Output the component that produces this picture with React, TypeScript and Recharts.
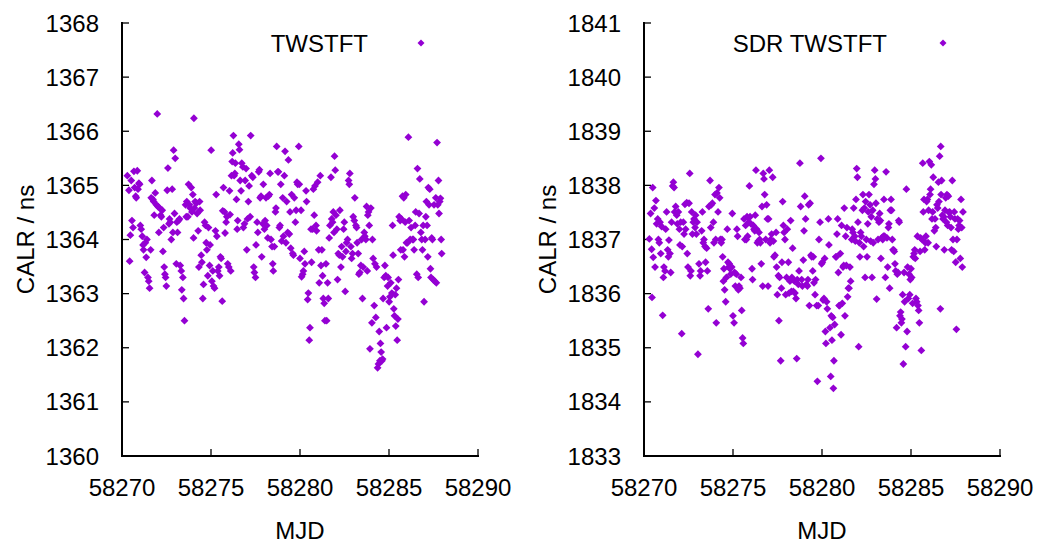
import React from 'react';
import { ScatterChart, Scatter, XAxis, YAxis, Label } from 'recharts';

// MJD axis
const mjdTicks = [58270, 58275, 58280, 58285, 58290];
const twstftTicks = [1360, 1361, 1362, 1363, 1364, 1365, 1366, 1367, 1368];
const sdrTicks = [1833, 1834, 1835, 1836, 1837, 1838, 1839, 1840, 1841];

// left panel: TWSTFT
const twstftMjd = [
  58270.30, 58270.39, 58270.43, 58270.47, 58270.52, 58270.56, 58270.62, 58270.67, 58270.71, 58270.77,
  58270.80, 58270.86, 58270.90, 58270.95, 58270.99, 58271.03, 58271.08, 58271.14, 58271.18, 58271.21,
  58271.27, 58271.31, 58271.36, 58271.40, 58271.46, 58271.50, 58271.55, 58271.61, 58271.64, 58271.68,
  58271.74, 58271.78, 58271.81, 58271.87, 58271.93, 58271.98, 58272.02, 58272.07, 58272.11, 58272.17,
  58272.21, 58272.26, 58272.30, 58272.34, 58272.37, 58272.41, 58272.45, 58272.49, 58272.54, 58272.58,
  58272.64, 58272.67, 58272.71, 58272.77, 58272.82, 58272.86, 58272.90, 58272.95, 58272.99, 58273.05,
  58273.08, 58273.12, 58273.18, 58273.23, 58273.27, 58273.33, 58273.36, 58273.42, 58273.46, 58273.51,
  58273.57, 58273.61, 58273.64, 58273.70, 58273.74, 58273.79, 58273.83, 58273.89, 58273.93, 58273.98,
  58274.02, 58274.04, 58274.07, 58274.11, 58274.17, 58274.22, 58274.28, 58274.32, 58274.36, 58274.39,
  58274.45, 58274.49, 58274.54, 58274.58, 58274.64, 58274.69, 58274.73, 58274.77, 58274.82, 58274.86,
  58274.92, 58274.95, 58275.01, 58275.05, 58275.10, 58275.14, 58275.20, 58275.25, 58275.29, 58275.33,
  58275.38, 58275.44, 58275.48, 58275.53, 58275.57, 58275.63, 58275.66, 58275.70, 58275.76, 58275.79,
  58275.85, 58275.89, 58275.94, 58276.00, 58276.04, 58276.07, 58276.11, 58276.15, 58276.19, 58276.22,
  58276.26, 58276.30, 58276.34, 58276.37, 58276.43, 58276.47, 58276.50, 58276.56, 58276.60, 58276.64,
  58276.69, 58276.73, 58276.79, 58276.82, 58276.88, 58276.92, 58276.97, 58277.01, 58277.05, 58277.10,
  58277.14, 58277.20, 58277.23, 58277.29, 58277.35, 58277.40, 58277.44, 58277.50, 58277.53, 58277.59,
  58277.63, 58277.68, 58277.72, 58277.76, 58277.81, 58277.85, 58277.91, 58277.94, 58278.00, 58278.04,
  58278.09, 58278.13, 58278.19, 58278.22, 58278.28, 58278.32, 58278.37, 58278.43, 58278.47, 58278.50,
  58278.56, 58278.62, 58278.65, 58278.69, 58278.75, 58278.79, 58278.84, 58278.88, 58278.92, 58278.97,
  58279.03, 58279.07, 58279.12, 58279.16, 58279.21, 58279.25, 58279.31, 58279.35, 58279.40, 58279.44,
  58279.48, 58279.53, 58279.59, 58279.63, 58279.68, 58279.74, 58279.78, 58279.83, 58279.87, 58279.93,
  58279.96, 58280.00, 58280.06, 58280.09, 58280.15, 58280.19, 58280.24, 58280.28, 58280.34, 58280.37,
  58280.43, 58280.47, 58280.52, 58280.56, 58280.62, 58280.65, 58280.71, 58280.75, 58280.80, 58280.84,
  58280.90, 58280.93, 58280.99, 58281.05, 58281.08, 58281.14, 58281.18, 58281.23, 58281.27, 58281.31,
  58281.36, 58281.40, 58281.46, 58281.50, 58281.55, 58281.59, 58281.64, 58281.68, 58281.74, 58281.78,
  58281.83, 58281.87, 58281.91, 58281.94, 58281.98, 58282.02, 58282.07, 58282.11, 58282.15, 58282.21,
  58282.24, 58282.30, 58282.34, 58282.39, 58282.45, 58282.49, 58282.54, 58282.58, 58282.62, 58282.67,
  58282.73, 58282.77, 58282.80, 58282.86, 58282.90, 58282.95, 58282.99, 58283.05, 58283.08, 58283.14,
  58283.18, 58283.21, 58283.27, 58283.31, 58283.36, 58283.42, 58283.46, 58283.51, 58283.55, 58283.61,
  58283.64, 58283.70, 58283.74, 58283.78, 58283.81, 58283.85, 58283.89, 58283.93, 58283.98, 58284.04,
  58284.07, 58284.11, 58284.17, 58284.21, 58284.26, 58284.30, 58284.36, 58284.41, 58284.45, 58284.49,
  58284.52, 58284.56, 58284.60, 58284.64, 58284.67, 58284.73, 58284.77, 58284.82, 58284.86, 58284.92,
  58284.95, 58285.01, 58285.05, 58285.10, 58285.16, 58285.20, 58285.23, 58285.27, 58285.31, 58285.35,
  58285.38, 58285.42, 58285.46, 58285.50, 58285.53, 58285.57, 58285.63, 58285.66, 58285.70, 58285.76,
  58285.79, 58285.83, 58285.87, 58285.91, 58285.94, 58285.98, 58286.04, 58286.09, 58286.13, 58286.19,
  58286.24, 58286.32, 58286.37, 58286.41, 58286.47, 58286.50, 58286.56, 58286.60, 58286.64, 58286.69,
  58286.73, 58286.79, 58286.84, 58286.88, 58286.92, 58286.97, 58287.03, 58287.07, 58287.10, 58287.14,
  58287.18, 58287.21, 58287.25, 58287.29, 58287.33, 58287.36, 58287.40, 58287.44, 58287.48, 58287.53,
  58287.57, 58287.63, 58287.66, 58287.70, 58287.74, 58287.78, 58287.81, 58287.85, 58287.89, 58287.93,
  58287.96,
];
const twstftCalr = [
  1365.18, 1364.91, 1363.60, 1364.08, 1365.09, 1364.35, 1364.22, 1365.26, 1364.96, 1364.80,
  1364.77, 1365.27, 1364.93, 1365.04, 1365.02, 1364.26, 1364.19, 1364.06, 1363.90, 1363.81,
  1363.39, 1363.94, 1363.67, 1364.00, 1363.30, 1363.23, 1363.10, 1363.81, 1364.77, 1365.09,
  1364.74, 1364.70, 1364.45, 1364.86, 1364.64, 1366.32, 1364.61, 1364.13, 1364.58, 1364.45,
  1364.42, 1364.54, 1363.78, 1364.22, 1363.49, 1363.36, 1363.30, 1363.14, 1364.91, 1365.32,
  1364.29, 1364.38, 1364.32, 1364.00, 1364.93, 1364.13, 1365.65, 1364.48, 1365.50, 1363.55,
  1364.32, 1364.13, 1364.35, 1364.38, 1363.52, 1363.42, 1363.07, 1363.30, 1362.91, 1362.50,
  1364.64, 1364.42, 1364.70, 1364.42, 1365.02, 1364.64, 1364.58, 1364.96, 1364.51, 1364.83,
  1364.03, 1366.24, 1364.58, 1364.70, 1364.67, 1364.48, 1364.16, 1363.49, 1364.70, 1364.54,
  1363.71, 1363.58, 1362.91, 1363.17, 1364.32, 1364.26, 1363.94, 1363.81, 1363.33, 1364.22,
  1363.52, 1363.90, 1365.65, 1363.23, 1363.42, 1363.14, 1363.10, 1364.16, 1364.83, 1364.06,
  1363.42, 1363.49, 1363.33, 1363.68, 1363.65, 1362.86, 1364.53, 1364.96, 1364.51, 1364.12,
  1364.32, 1364.42, 1363.55, 1363.49, 1364.90, 1364.46, 1363.42, 1365.18, 1365.44, 1365.60,
  1365.92, 1365.18, 1365.22, 1365.41, 1364.74, 1364.19, 1364.35, 1365.76, 1365.66, 1365.09,
  1364.90, 1365.41, 1365.34, 1364.22, 1364.29, 1365.09, 1365.31, 1363.81, 1364.38, 1364.70,
  1364.99, 1364.42, 1365.92, 1365.18, 1365.15, 1363.49, 1363.39, 1363.30, 1363.90, 1364.32,
  1364.13, 1365.25, 1365.29, 1364.77, 1364.80, 1363.68, 1364.29, 1365.02, 1364.19, 1364.35,
  1364.77, 1364.26, 1364.03, 1364.80, 1364.83, 1365.22, 1364.00, 1363.87, 1363.55, 1363.42,
  1363.87, 1364.51, 1364.58, 1365.72, 1365.25, 1365.25, 1364.22, 1364.26, 1365.02, 1363.97,
  1364.77, 1364.06, 1365.18, 1365.63, 1363.94, 1364.70, 1364.13, 1365.47, 1364.10, 1364.51,
  1363.84, 1364.83, 1363.74, 1363.71, 1364.77, 1364.32, 1364.54, 1365.06, 1365.02, 1365.72,
  1365.02, 1363.65, 1364.54, 1363.31, 1363.36, 1363.42, 1363.78, 1363.55, 1364.90, 1364.70,
  1362.89, 1363.01, 1362.14, 1362.37, 1364.19, 1363.58, 1364.19, 1364.93, 1364.45, 1364.99,
  1364.26, 1364.16, 1365.06, 1363.81, 1363.20, 1365.18, 1363.52, 1363.81, 1363.33, 1362.91,
  1362.82, 1362.50, 1363.55, 1362.50, 1363.20, 1362.91, 1364.03, 1364.26, 1365.15, 1364.38,
  1364.32, 1364.51, 1364.13, 1365.54, 1365.28, 1364.45, 1364.19, 1363.26, 1363.74, 1363.71,
  1364.54, 1363.49, 1363.87, 1363.68, 1364.19, 1364.32, 1363.04, 1363.78, 1363.94, 1364.00,
  1365.09, 1365.02, 1365.22, 1363.87, 1363.65, 1363.74, 1364.42, 1364.35, 1364.77, 1364.26,
  1364.22, 1363.94, 1363.74, 1363.36, 1363.39, 1363.52, 1364.00, 1362.91, 1363.49, 1364.13,
  1364.06, 1364.00, 1364.61, 1363.42, 1364.45, 1364.51, 1364.26, 1361.98, 1364.58, 1362.46,
  1364.00, 1363.65, 1362.78, 1363.55, 1362.56, 1363.49, 1361.63, 1361.70, 1362.30, 1361.76,
  1362.08, 1361.92, 1361.76, 1361.79, 1362.91, 1363.30, 1363.52, 1363.33, 1362.37, 1363.14,
  1363.30, 1362.85, 1362.94, 1363.20, 1363.01, 1364.26, 1363.71, 1362.72, 1362.59, 1362.98,
  1362.40, 1363.10, 1362.14, 1362.53, 1363.26, 1364.42, 1364.35, 1363.81, 1364.38, 1364.80,
  1363.81, 1364.77, 1363.68, 1364.32, 1364.83, 1363.94, 1363.94, 1365.89, 1364.35, 1364.00,
  1364.22, 1364.00, 1364.00, 1363.81, 1364.26, 1364.51, 1363.36, 1365.31, 1363.30, 1364.48,
  1365.12, 1364.13, 1364.00, 1363.81, 1364.26, 1362.85, 1364.00, 1364.42, 1364.70, 1364.26,
  1363.68, 1364.96, 1364.64, 1364.93, 1363.46, 1363.30, 1364.03, 1364.00, 1363.26, 1364.64,
  1363.23, 1364.77, 1363.20, 1365.79, 1364.64, 1365.09, 1364.48, 1364.70, 1364.76, 1364.00,
  1363.74,
];

// right panel: SDR TWSTFT
const sdrMjd = [
  58270.30, 58270.37, 58270.43, 58270.45, 58270.49, 58270.52, 58270.58, 58270.62, 58270.67, 58270.71,
  58270.77, 58270.81, 58270.86, 58270.90, 58270.94, 58270.99, 58271.05, 58271.09, 58271.12, 58271.18,
  58271.22, 58271.27, 58271.33, 58271.37, 58271.40, 58271.46, 58271.50, 58271.55, 58271.61, 58271.65,
  58271.69, 58271.72, 58271.78, 58271.84, 58271.87, 58271.93, 58271.99, 58272.02, 58272.06, 58272.12,
  58272.15, 58272.21, 58272.25, 58272.30, 58272.34, 58272.40, 58272.43, 58272.47, 58272.53, 58272.57,
  58272.60, 58272.64, 58272.68, 58272.72, 58272.77, 58272.81, 58272.87, 58272.90, 58272.94, 58272.98,
  58273.03, 58273.09, 58273.15, 58273.18, 58273.24, 58273.28, 58273.33, 58273.37, 58273.43, 58273.46,
  58273.52, 58273.56, 58273.61, 58273.65, 58273.71, 58273.75, 58273.78, 58273.84, 58273.90, 58273.93,
  58273.99, 58274.03, 58274.06, 58274.10, 58274.16, 58274.21, 58274.25, 58274.29, 58274.34, 58274.38,
  58274.42, 58274.46, 58274.49, 58274.53, 58274.59, 58274.63, 58274.68, 58274.72, 58274.76, 58274.79,
  58274.83, 58274.87, 58274.93, 58274.96, 58275.00, 58275.06, 58275.09, 58275.13, 58275.19, 58275.22,
  58275.26, 58275.30, 58275.34, 58275.39, 58275.45, 58275.49, 58275.54, 58275.58, 58275.62, 58275.67,
  58275.71, 58275.75, 58275.79, 58275.82, 58275.88, 58275.92, 58275.96, 58276.01, 58276.07, 58276.10,
  58276.14, 58276.18, 58276.22, 58276.25, 58276.29, 58276.33, 58276.37, 58276.42, 58276.46, 58276.50,
  58276.54, 58276.59, 58276.63, 58276.67, 58276.70, 58276.74, 58276.78, 58276.84, 58276.89, 58276.93,
  58276.97, 58277.00, 58277.04, 58277.08, 58277.12, 58277.17, 58277.23, 58277.27, 58277.30, 58277.36,
  58277.42, 58277.45, 58277.49, 58277.55, 58277.58, 58277.62, 58277.68, 58277.72, 58277.75, 58277.79,
  58277.83, 58277.87, 58277.92, 58277.96, 58278.01, 58278.05, 58278.11, 58278.15, 58278.20, 58278.24,
  58278.28, 58278.31, 58278.35, 58278.39, 58278.45, 58278.48, 58278.54, 58278.58, 58278.61, 58278.67,
  58278.71, 58278.76, 58278.80, 58278.86, 58278.90, 58278.95, 58278.99, 58279.03, 58279.08, 58279.12,
  58279.18, 58279.21, 58279.25, 58279.29, 58279.33, 58279.38, 58279.42, 58279.48, 58279.51, 58279.55,
  58279.61, 58279.64, 58279.70, 58279.74, 58279.79, 58279.83, 58279.89, 58279.94, 58279.98, 58280.02,
  58280.06, 58280.11, 58280.15, 58280.19, 58280.22, 58280.26, 58280.30, 58280.36, 58280.39, 58280.45,
  58280.49, 58280.52, 58280.56, 58280.60, 58280.64, 58280.67, 58280.71, 58280.77, 58280.81, 58280.84,
  58280.88, 58280.92, 58280.96, 58280.99, 58281.03, 58281.07, 58281.10, 58281.14, 58281.18, 58281.22,
  58281.25, 58281.29, 58281.33, 58281.37, 58281.40, 58281.44, 58281.48, 58281.52, 58281.57, 58281.61,
  58281.67, 58281.70, 58281.74, 58281.78, 58281.84, 58281.87, 58281.91, 58281.95, 58281.99, 58282.02,
  58282.06, 58282.10, 58282.13, 58282.17, 58282.21, 58282.27, 58282.30, 58282.34, 58282.38, 58282.42,
  58282.45, 58282.49, 58282.53, 58282.57, 58282.60, 58282.64, 58282.70, 58282.73, 58282.77, 58282.81,
  58282.85, 58282.88, 58282.92, 58282.96, 58283.00, 58283.03, 58283.07, 58283.11, 58283.15, 58283.20,
  58283.24, 58283.28, 58283.31, 58283.35, 58283.41, 58283.45, 58283.48, 58283.52, 58283.56, 58283.60,
  58283.65, 58283.69, 58283.73, 58283.76, 58283.80, 58283.84, 58283.88, 58283.91, 58283.95, 58283.99,
  58284.03, 58284.06, 58284.10, 58284.14, 58284.19, 58284.23, 58284.27, 58284.31, 58284.34, 58284.38,
  58284.42, 58284.46, 58284.49, 58284.53, 58284.57, 58284.61, 58284.64, 58284.70, 58284.74, 58284.78,
  58284.81, 58284.85, 58284.89, 58284.93, 58284.96, 58285.00, 58285.04, 58285.09, 58285.13, 58285.17,
  58285.21, 58285.24, 58285.28, 58285.32, 58285.36, 58285.39, 58285.43, 58285.47, 58285.51, 58285.54,
  58285.58, 58285.62, 58285.66, 58285.69, 58285.73, 58285.77, 58285.81, 58285.84, 58285.88, 58285.92,
  58285.96, 58285.99, 58286.03, 58286.07, 58286.10, 58286.14, 58286.18, 58286.22, 58286.25, 58286.31,
  58286.35, 58286.39, 58286.42, 58286.46, 58286.50, 58286.54, 58286.57, 58286.61, 58286.65, 58286.67,
  58286.69, 58286.72, 58286.76, 58286.80, 58286.84, 58286.87, 58286.91, 58286.95, 58286.99, 58287.02,
  58287.06, 58287.10, 58287.13, 58287.17, 58287.21, 58287.25, 58287.28, 58287.32, 58287.36, 58287.40,
  58287.43, 58287.47, 58287.51, 58287.55, 58287.58, 58287.62, 58287.66, 58287.70, 58287.73, 58287.77,
  58287.81, 58287.85, 58287.88, 58287.92,
];
const sdrCalr = [
  1837.01, 1837.48, 1836.82, 1835.93, 1837.96, 1836.67, 1837.58, 1836.49, 1837.72, 1837.29,
  1837.38, 1837.00, 1836.94, 1837.32, 1836.74, 1837.24, 1835.60, 1836.30, 1836.49, 1836.42,
  1837.19, 1837.51, 1836.81, 1836.68, 1836.99, 1836.74, 1836.39, 1837.32, 1837.99, 1838.06,
  1837.96, 1837.51, 1837.61, 1837.45, 1837.29, 1837.51, 1837.19, 1836.90, 1837.32, 1835.26,
  1836.87, 1837.32, 1837.10, 1837.65, 1837.19, 1837.68, 1836.74, 1836.49, 1837.67, 1838.22,
  1836.33, 1836.42, 1837.51, 1837.10, 1837.32, 1837.38, 1837.22, 1837.45, 1837.10, 1837.32,
  1834.88, 1836.55, 1836.33, 1836.42, 1837.16, 1837.51, 1836.94, 1837.00, 1836.87, 1836.58,
  1836.84, 1836.42, 1835.72, 1837.61, 1838.09, 1837.22, 1837.64, 1837.67, 1837.32, 1836.94,
  1837.83, 1837.00, 1835.46, 1837.86, 1837.51, 1837.96, 1837.77, 1837.00, 1836.94, 1837.00,
  1836.68, 1836.23, 1836.46, 1836.07, 1835.85, 1836.30, 1837.19, 1836.58, 1836.49, 1836.55,
  1836.46, 1836.36, 1836.49, 1837.48, 1835.59, 1835.46, 1836.39, 1836.14, 1836.36, 1837.19,
  1837.06, 1836.07, 1836.14, 1836.10, 1836.30, 1835.69, 1835.18, 1835.08, 1837.38, 1837.00,
  1837.26, 1837.00, 1837.42, 1837.06, 1837.32, 1837.99, 1837.42, 1837.29, 1836.46, 1836.26,
  1837.26, 1837.19, 1837.16, 1837.45, 1838.28, 1837.19, 1836.94, 1836.97, 1837.13, 1837.00,
  1836.94, 1836.55, 1837.61, 1836.14, 1838.22, 1838.12, 1837.83, 1837.00, 1837.64, 1837.38,
  1836.14, 1837.38, 1838.28, 1836.94, 1837.00, 1837.10, 1838.15, 1836.97, 1836.68, 1836.71,
  1837.13, 1836.49, 1835.98, 1836.33, 1835.50, 1836.30, 1834.76, 1836.10, 1836.58, 1837.70,
  1837.26, 1837.13, 1837.00, 1835.98, 1836.30, 1837.19, 1836.58, 1836.01, 1836.23, 1837.35,
  1836.04, 1836.30, 1836.84, 1836.04, 1836.23, 1836.01, 1835.91, 1834.80, 1836.26, 1836.17,
  1836.42, 1838.41, 1837.61, 1836.26, 1836.14, 1836.62, 1837.16, 1837.80, 1837.38, 1836.17,
  1836.14, 1836.26, 1837.64, 1835.78, 1837.67, 1836.71, 1836.68, 1836.42, 1836.68, 1836.20,
  1835.98, 1836.26, 1835.78, 1834.38, 1835.78, 1837.00, 1837.32, 1838.50, 1836.55, 1836.58,
  1835.88, 1835.91, 1836.65, 1835.30, 1835.08, 1835.85, 1835.72, 1837.38, 1836.90, 1835.37,
  1834.47, 1835.59, 1835.14, 1835.56, 1834.25, 1834.76, 1835.43, 1836.68, 1836.68, 1837.10,
  1837.38, 1836.39, 1835.78, 1835.78, 1836.74, 1835.24, 1837.26, 1835.82, 1836.49, 1836.52,
  1837.58, 1835.59, 1837.06, 1836.52, 1837.22, 1835.94, 1836.10, 1836.10, 1836.49, 1836.23,
  1837.00, 1837.19, 1837.13, 1837.58, 1837.06, 1836.97, 1837.74, 1838.31, 1838.15, 1837.32,
  1835.02, 1836.94, 1836.68, 1837.13, 1837.06, 1837.54, 1837.83, 1836.87, 1837.58, 1836.30,
  1837.70, 1837.00, 1836.68, 1837.29, 1837.51, 1837.83, 1837.64, 1836.97, 1837.42, 1836.30,
  1837.54, 1836.94, 1838.02, 1838.28, 1838.12, 1837.67, 1835.90, 1837.38, 1837.00, 1837.32,
  1837.48, 1837.35, 1836.65, 1837.03, 1837.00, 1837.06, 1837.74, 1837.06, 1836.30, 1838.25,
  1837.03, 1836.49, 1837.22, 1837.29, 1836.10, 1837.54, 1837.74, 1837.54, 1837.00, 1836.81,
  1836.81, 1836.78, 1836.55, 1836.42, 1835.37, 1836.36, 1836.39, 1837.35, 1837.32, 1835.59,
  1835.66, 1835.46, 1835.53, 1835.98, 1834.70, 1836.39, 1835.85, 1835.02, 1837.93, 1835.30,
  1836.49, 1835.91, 1836.36, 1835.98, 1836.26, 1836.46, 1836.30, 1835.82, 1836.68, 1836.74,
  1836.81, 1836.65, 1835.91, 1835.85, 1837.06, 1835.78, 1835.69, 1835.46, 1836.78, 1837.03,
  1834.95, 1837.00, 1838.41, 1837.51, 1837.74, 1836.81, 1836.94, 1837.06, 1837.70, 1837.74,
  1836.94, 1837.54, 1838.44, 1837.83, 1837.93, 1838.38, 1837.38, 1837.51, 1838.15, 1837.16,
  1837.38, 1837.22, 1836.87, 1837.64, 1837.58, 1838.06, 1837.70, 1838.54, 1835.72, 1838.72,
  1837.83, 1838.09, 1837.45, 1837.38, 1837.42, 1836.81, 1837.54, 1837.77, 1837.32, 1837.83,
  1837.26, 1837.80, 1837.50, 1837.51, 1837.42, 1837.22, 1836.81, 1838.09, 1837.00, 1836.78,
  1837.51, 1837.38, 1836.58, 1835.34, 1837.00, 1837.38, 1837.19, 1837.26, 1837.35, 1836.65,
  1837.74, 1837.22, 1836.49, 1837.51,
];

const PURPLE = '#9400d3';
const FONT = '"Liberation Sans", Arial, sans-serif';
const FONT_SIZE = 24;

const twstftData = twstftMjd.map((mjd, i) => ({ mjd, calr: twstftCalr[i] }));
const sdrData = sdrMjd.map((mjd, i) => ({ mjd, calr: sdrCalr[i] }));

const Diamond = (props: any) => {
  const { cx, cy } = props;
  if (cx == null || cy == null) return null;
  const r = 3.9;
  return (
    <path
      d={`M${cx},${cy - r}L${cx + r},${cy}L${cx},${cy + r}L${cx - r},${cy}Z`}
      fill={PURPLE}
    />
  );
};

const frame = { stroke: '#000', strokeWidth: 2, strokeLinecap: 'square' as const };
const tickLine = { stroke: '#000', strokeWidth: 1.3 };
const tickText = { fill: '#000', fontSize: FONT_SIZE, fontFamily: FONT };

function Panel({ data, yTicks, left, width }: { data: any[]; yTicks: number[]; left: number; width: number }) {
  const yDomain = [yTicks[0], yTicks[yTicks.length - 1]];
  return (
    <div style={{ position: 'absolute', left, top: 0 }}>
      <ScatterChart
        width={width}
        height={544}
        margin={{ top: 23, right: width - 478, bottom: 0, left: 42 }}
      >
        <XAxis
          xAxisId="b"
          dataKey="mjd"
          type="number"
          domain={[58270, 58290]}
          ticks={mjdTicks}
          interval={0}
          height={88}
          tickSize={-7}
          tickMargin={30}
          axisLine={frame}
          tickLine={tickLine}
          tick={tickText}
        >
          <Label
            content={({ viewBox }: any) => (
              <text
                x={viewBox.x + viewBox.width / 2}
                y={viewBox.y + viewBox.height - 5}
                textAnchor="middle"
                fontSize={FONT_SIZE}
                fontFamily={FONT}
                fill="#000"
              >
                MJD
              </text>
            )}
          />
        </XAxis>
        <XAxis
          xAxisId="t"
          orientation="top"
          dataKey="mjd"
          type="number"
          domain={[58270, 58290]}
          ticks={mjdTicks}
          interval={0}
          height={0}
          tickSize={-7}
          axisLine={frame}
          tickLine={tickLine}
          tickFormatter={() => ''}
        />
        <YAxis
          yAxisId="l"
          dataKey="calr"
          type="number"
          domain={yDomain}
          ticks={yTicks}
          interval={0}
          width={80}
          tickSize={-7}
          tickMargin={30}
          axisLine={frame}
          tickLine={tickLine}
          tick={tickText}
        >
          <Label
            content={({ viewBox }: any) => {
              const x = viewBox.x - 16;
              const y = viewBox.y + viewBox.height / 2;
              return (
                <text
                  x={x}
                  y={y}
                  dy="0.35em"
                  transform={`rotate(-90, ${x}, ${y})`}
                  textAnchor="middle"
                  fontSize={FONT_SIZE}
                  fontFamily={FONT}
                  fill="#000"
                >
                  CALR / ns
                </text>
              );
            }}
          />
        </YAxis>
        <YAxis
          yAxisId="r"
          orientation="right"
          dataKey="calr"
          type="number"
          domain={yDomain}
          ticks={yTicks}
          interval={0}
          width={0}
          tickSize={-7}
          axisLine={frame}
          tickLine={tickLine}
          tickFormatter={() => ''}
        />
        <Scatter xAxisId="b" yAxisId="l" data={data} shape={<Diamond />} isAnimationActive={false} />
      </ScatterChart>
    </div>
  );
}

const legendDiamond = (cx: number, cy: number) => {
  const r = 3.5;
  return `M${cx},${cy - r}L${cx + r},${cy}L${cx},${cy + r}L${cx - r},${cy}Z`;
};

export default function App() {
  return (
    <div style={{ position: 'absolute', left: 0, top: 0, width: 1037, height: 544, background: '#fff', overflow: 'hidden' }}>
      <Panel data={twstftData} yTicks={twstftTicks} left={0} width={520} />
      <Panel data={sdrData} yTicks={sdrTicks} left={522} width={515} />
      <svg
        width={1037}
        height={544}
        style={{ position: 'absolute', left: 0, top: 0, pointerEvents: 'none' }}
      >
        <text x={368} y={52} textAnchor="end" fontSize={FONT_SIZE} fontFamily={FONT} fill="#000">
          TWSTFT
        </text>
        <path d={legendDiamond(421, 43)} fill={PURPLE} />
        <text x={887} y={52} textAnchor="end" fontSize={FONT_SIZE} fontFamily={FONT} fill="#000">
          SDR TWSTFT
        </text>
        <path d={legendDiamond(943, 43)} fill={PURPLE} />
      </svg>
    </div>
  );
}
